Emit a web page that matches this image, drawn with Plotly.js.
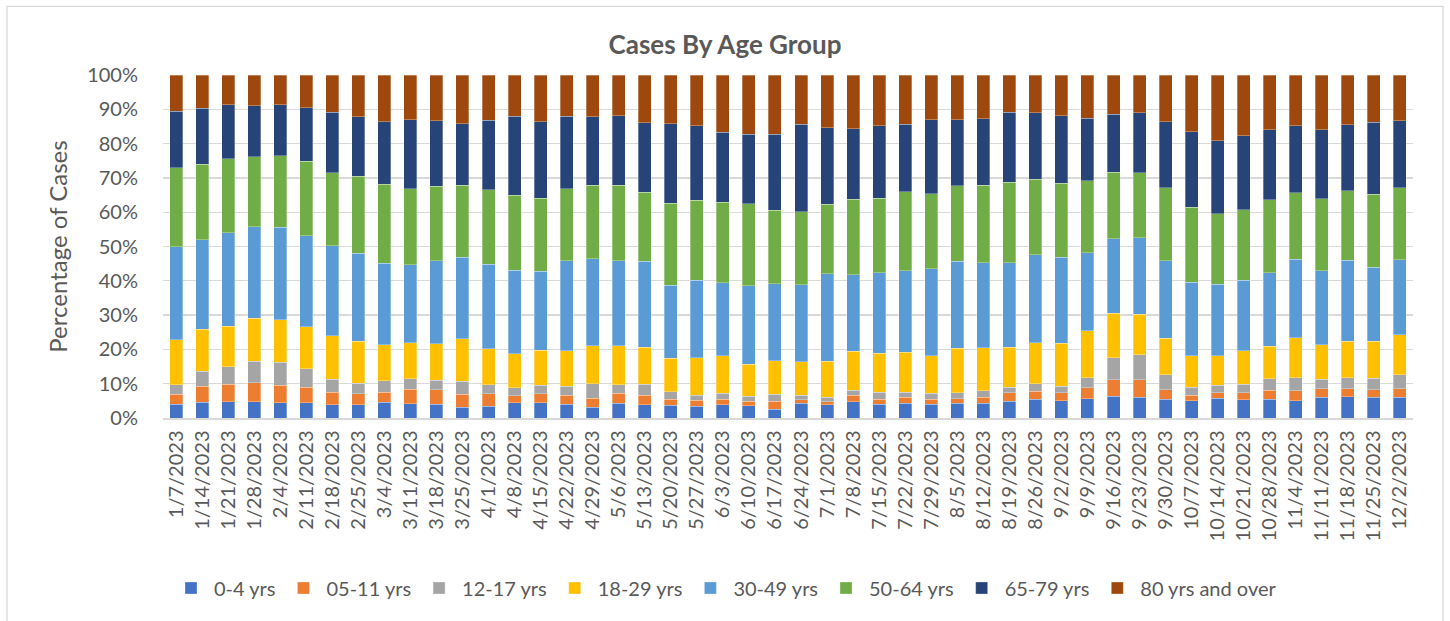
<!DOCTYPE html>
<html>
<head>
<meta charset="utf-8">
<script src="https://cdn.plot.ly/plotly-3.0.1.min.js"></script>
<style>html,body{margin:0;padding:0;background:#fff;}#chart{width:1450px;height:621px;}</style>
</head>
<body>
<div id="chart"></div>
<script>
var weeks = ["1/7/2023","1/14/2023","1/21/2023","1/28/2023","2/4/2023","2/11/2023","2/18/2023","2/25/2023",
"3/4/2023","3/11/2023","3/18/2023","3/25/2023","4/1/2023","4/8/2023","4/15/2023","4/22/2023","4/29/2023",
"5/6/2023","5/13/2023","5/20/2023","5/27/2023","6/3/2023","6/10/2023","6/17/2023","6/24/2023","7/1/2023",
"7/8/2023","7/15/2023","7/22/2023","7/29/2023","8/5/2023","8/12/2023","8/19/2023","8/26/2023","9/2/2023",
"9/9/2023","9/16/2023","9/23/2023","9/30/2023","10/7/2023","10/14/2023","10/21/2023","10/28/2023",
"11/4/2023","11/11/2023","11/18/2023","11/25/2023","12/2/2023"];

var seriesNames = ["0-4 yrs","05-11 yrs","12-17 yrs","18-29 yrs","30-49 yrs","50-64 yrs","65-79 yrs","80 yrs and over"];

var age0_4 = [4.0,4.6,4.8,4.8,4.4,4.4,3.9,3.9,4.6,4.2,4.0,3.1,3.4,4.4,4.4,4.0,3.2,4.3,3.8,3.7,3.4,3.9,3.6,2.6,
4.3,3.9,4.7,4.0,4.3,4.0,4.3,4.3,4.9,5.4,5.1,5.6,6.3,6.0,5.4,5.1,5.7,5.3,5.4,5.1,6.0,6.2,6.0,6.0];
var age5_11 = [2.9,4.6,5.1,5.5,5.1,4.5,3.6,3.1,2.9,4.2,4.3,3.8,3.6,2.1,2.7,2.7,2.6,2.9,2.8,1.8,1.8,1.5,1.3,2.3,
1.0,0.9,1.9,1.4,1.7,1.4,1.3,1.8,2.4,2.4,2.2,3.2,4.9,5.2,2.9,1.5,1.7,2.0,2.7,2.9,2.5,2.4,2.3,2.5];
var age12_17 = [2.8,4.4,5.1,6.2,6.7,5.5,3.8,3.1,3.4,3.0,2.7,3.8,2.7,2.3,2.4,2.5,4.2,2.5,3.2,2.1,1.5,1.8,1.4,2.0,
1.3,1.2,1.5,2.1,1.5,1.8,1.7,1.9,1.6,2.2,1.9,3.0,6.3,7.2,4.3,2.4,2.1,2.5,3.3,3.8,2.8,3.2,3.3,4.1];
var age18_29 = [13.1,12.3,11.8,12.6,12.4,12.2,12.7,12.3,10.4,10.6,10.6,12.4,10.5,9.9,10.2,10.4,11.0,11.3,10.9,9.8,10.8,11.0,9.4,9.8,
9.8,10.5,11.3,11.4,11.6,10.9,13.0,12.5,11.8,12.0,12.6,13.7,13.1,11.8,10.7,9.1,8.6,9.8,9.5,11.6,10.1,10.6,10.8,11.6];
var age30_49 = [27.2,26.0,27.2,26.6,27.0,26.5,26.2,25.6,23.8,22.7,24.3,23.7,24.6,24.4,23.1,26.3,25.5,24.9,25.0,21.3,22.7,21.3,22.9,22.4,
22.5,25.6,22.3,23.5,23.9,25.4,25.4,24.7,24.5,25.6,25.0,22.7,21.6,22.4,22.5,21.5,20.9,20.5,21.5,22.9,21.5,23.6,21.5,22.0];
var age50_64 = [23.0,22.1,21.6,20.5,20.8,21.8,21.3,22.5,23.1,22.1,21.6,21.1,21.8,21.9,21.2,21.0,21.4,22.0,20.1,23.9,23.3,23.4,23.9,21.4,
21.3,20.2,22.1,21.7,22.9,21.9,22.0,22.7,23.5,22.0,21.6,21.0,19.4,18.9,21.3,21.8,20.5,20.6,21.3,19.3,21.0,20.3,21.4,21.0];
var age65_79 = [16.5,16.3,15.8,14.8,15.0,15.6,17.7,17.4,18.1,20.1,19.1,17.9,20.2,23.0,22.4,21.1,19.9,20.2,20.3,23.2,21.7,20.4,20.3,22.3,
25.4,22.3,20.5,21.1,19.8,21.5,19.2,19.4,20.5,19.4,19.7,18.2,17.0,17.5,19.3,22.1,21.4,21.6,20.4,19.6,20.2,19.2,20.9,19.5];
var age80plus = [10.5,9.7,8.6,9.0,8.6,9.5,10.8,12.1,13.7,13.1,13.4,14.2,13.2,12.0,13.6,12.0,12.2,11.9,13.9,14.2,14.8,16.7,17.2,17.2,
14.4,15.4,15.7,14.8,14.3,13.1,13.1,12.7,10.8,11.0,11.9,12.6,11.4,11.0,13.6,16.5,19.1,17.7,15.9,14.8,15.9,14.5,13.8,13.3];

var yTickVals = [0,10,20,30,40,50,60,70,80,90,100];
var yTickText = ["0%","10%","20%","30%","40%","50%","60%","70%","80%","90%","100%"];

var colors = ["#4472C4","#ED7D31","#A5A5A5","#FFC000","#5B9BD5","#70AD47","#264478","#9E480E"];
var allSeries = [age0_4, age5_11, age12_17, age18_29, age30_49, age50_64, age65_79, age80plus];

var FONT = "Lato, 'Open Sans', sans-serif";
var TXT = "#595959";

var traces = allSeries.map(function(vals, i){
  return {
    type: "bar",
    name: seriesNames[i],
    x: weeks,
    y: vals,
    marker: {color: colors[i], line: {color: "rgba(255,255,255,0.5)", width: 0.6}},
    hoverinfo: "x+y+name"
  };
});

var layout = {
  width: 1450,
  height: 621,
  barmode: "stack",
  bargap: 0.5,
  paper_bgcolor: "#ffffff",
  plot_bgcolor: "#ffffff",
  margin: {l: 163, r: 37, t: 75, b: 203, autoexpand: false},
  font: {family: FONT, color: TXT, size: 20},
  title: {
    text: "<b>Cases By Age Group</b>",
    x: 0.5, xref: "container", xanchor: "center",
    y: 1 - 45/621, yref: "container", yanchor: "middle",
    font: {family: FONT, size: 26, color: TXT}
  },
  xaxis: {
    type: "category",
    tickangle: -90,
    tickfont: {family: FONT, size: 20, color: TXT},
    showgrid: false,
    showline: true,
    linecolor: "#d9d9d9",
    linewidth: 1.5,
    ticks: "outside",
    ticklen: 3,
    tickcolor: "rgba(0,0,0,0)",
    automargin: false,
    fixedrange: true
  },
  yaxis: {
    range: [0, 100],
    tickvals: yTickVals,
    ticktext: yTickText,
    tickfont: {family: FONT, size: 20, color: TXT},
    showgrid: true,
    gridcolor: "#d9d9d9",
    gridwidth: 1.3,
    zeroline: false,
    showline: false,
    ticks: "outside",
    ticklen: 20,
    tickcolor: "rgba(0,0,0,0)",
    title: {text: "Percentage of Cases", font: {family: FONT, size: 24, color: TXT}, standoff: 12},
    automargin: false,
    fixedrange: true
  },
  showlegend: true,
  legend: {
    orientation: "h",
    xref: "container", x: 0.5, xanchor: "center",
    yref: "container", y: 1 - 588/621, yanchor: "middle",
    font: {family: FONT, size: 20, color: TXT},
    itemwidth: 36,
    traceorder: "normal",
    itemclick: false,
    itemdoubleclick: false
  },
  shapes: [{
    type: "rect", xref: "paper", yref: "paper",
    x0: (7 - 163)/1250, x1: (1443 - 163)/1250,
    y0: (418.3 - 640)/343.6, y1: (418.3 - 6)/343.6,
    line: {color: "#d9d9d9", width: 1.3},
    fillcolor: "rgba(0,0,0,0)",
    layer: "below"
  }]
};

Plotly.newPlot("chart", traces, layout, {displayModeBar: false, staticPlot: true});
</script>
</body>
</html>
